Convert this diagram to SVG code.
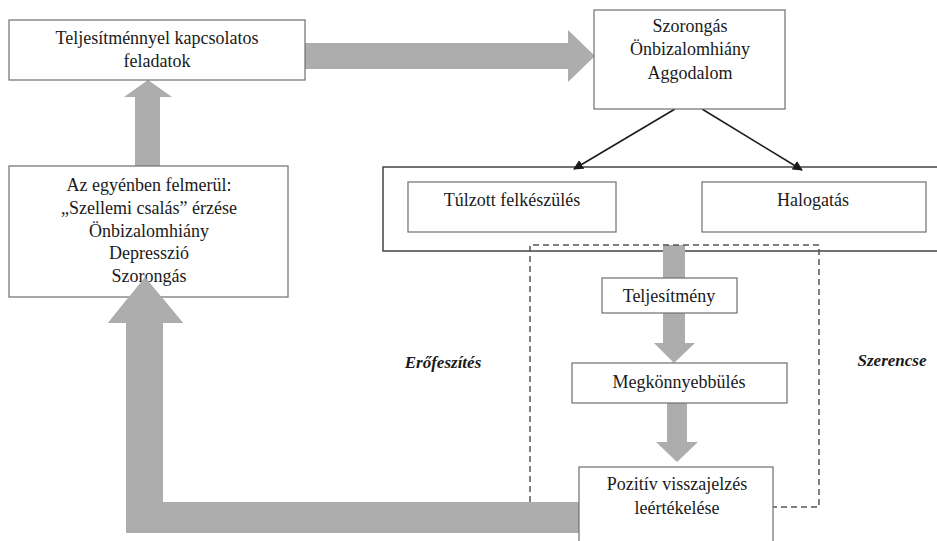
<svg xmlns="http://www.w3.org/2000/svg" width="937" height="541" viewBox="0 0 937 541">
<defs>
<style>
.box{fill:#fff;stroke:#6e6e6e;stroke-width:1.2}
.t{font-size:18px;fill:#1a1a1a;text-anchor:middle}
.lbl{font-size:17px;font-weight:bold;font-style:italic;fill:#1a1a1a;text-anchor:middle}
.g{fill:#adadad}
.dash{fill:none;stroke:#555;stroke-width:1.5;stroke-dasharray:6 4}
.ln{stroke:#1a1a1a;stroke-width:1.5;fill:none}
</style>
<marker id="ah" viewBox="0 0 10 10" refX="9" refY="5" markerWidth="10" markerHeight="10" markerUnits="userSpaceOnUse" orient="auto">
<path d="M0,0 L10,5 L0,10 z" fill="#1a1a1a"/>
</marker>
</defs>
<rect width="937" height="541" fill="#fff"/>

<g id="group-box">
<rect x="383" y="167" width="560" height="84" fill="#fff" stroke="#444" stroke-width="1.5"/>
</g>

<g id="connectors">
<path class="g" d="M305,43 L568,43 L568,30 L595,56 L568,82 L568,69 L305,69 z"/>
<path class="g" d="M135,166 L135,97 L124,97 L148,80 L172,97 L160,97 L160,166 z"/>
<path class="g" d="M579,502 L163,502 L163,323 L183,323 L145,277 L108,323 L126,323 L126,533 L579,533 z"/>
<rect class="g" x="663" y="245" width="22" height="33"/>
<path class="g" d="M663,313 L685,313 L685,343 L695,343 L674,363 L654,343 L663,343 z"/>
<path class="g" d="M667,403 L687,403 L687,442 L698,442 L677,462 L656,442 L667,442 z"/>
<line class="ln" x1="675" y1="109" x2="574" y2="169" marker-end="url(#ah)"/>
<line class="ln" x1="702" y1="109" x2="802" y2="170" marker-end="url(#ah)"/>
<path class="dash" d="M530,502 L530,245 L819,245 L819,507 L773,507"/>
</g>

<g font-family="Liberation Serif, Tinos, Times New Roman, Times, DejaVu Serif, Noto Serif, FreeSerif, serif">
<g id="n-tulzott">
<rect class="box" x="408" y="182" width="208" height="50"/>
<text class="t" x="512" y="206">Túlzott felkészülés</text>
</g>
<g id="n-halogatas">
<rect class="box" x="702" y="182" width="224" height="50"/>
<text class="t" x="813" y="206">Halogatás</text>
</g>

<g id="n-feladatok">
<rect class="box" x="9" y="20" width="296" height="60"/>
<text class="t" x="157" y="44">Teljesítménnyel kapcsolatos</text>
<text class="t" x="157" y="67">feladatok</text>
</g>

<g id="n-szorongas">
<rect class="box" x="594" y="10" width="191" height="99"/>
<text class="t" x="690" y="32">Szorongás</text>
<text class="t" x="690" y="55">Önbizalomhiány</text>
<text class="t" x="690" y="79">Aggodalom</text>
</g>

<g id="n-egyen">
<rect class="box" x="9" y="166" width="279" height="131"/>
<text class="t" x="149" y="191">Az egyénben felmerül:</text>
<text class="t" x="149" y="214">„Szellemi csalás” érzése</text>
<text class="t" x="149" y="237">Önbizalomhiány</text>
<text class="t" x="149" y="259">Depresszió</text>
<text class="t" x="149" y="282">Szorongás</text>
</g>

<g id="arrowhead-over">
<path class="g" d="M163,323 L183,323 L145,277 L108,323 L126,323 z"/>
</g>

<g id="n-teljesitmeny">
<rect class="box" x="602" y="278" width="135" height="35"/>
<text class="t" x="669" y="302">Teljesítmény</text>
</g>

<g id="n-megkonnyebbules">
<rect class="box" x="572" y="363" width="215" height="40"/>
<text class="t" x="679" y="388">Megkönnyebbülés</text>
</g>

<g id="n-pozitiv">
<rect class="box" x="579" y="467" width="194" height="80"/>
<text class="t" x="677" y="490">Pozitív visszajelzés</text>
<text class="t" x="677" y="514">leértékelése</text>
</g>

<g id="labels">
<text class="lbl" x="443" y="368">Erőfeszítés</text>
<text class="lbl" x="892" y="366">Szerencse</text>
</g>
</g>
</svg>
